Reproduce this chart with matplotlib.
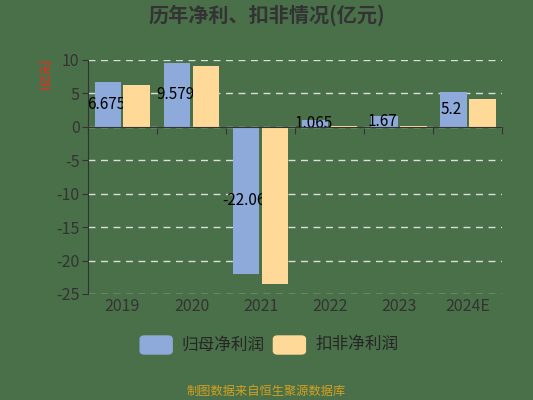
import numpy as np
import matplotlib
matplotlib.use('Agg')
import matplotlib.pyplot as plt
from matplotlib.patches import FancyBboxPatch

plt.rcParams['font.family'] = ['Noto Sans CJK SC', 'DejaVu Sans']

# data
years = ['2019', '2020', '2021', '2022', '2023', '2024E']
net_profit = [6.675, 9.579, -22.06, 1.065, 1.67, 5.2]
deducted = [6.3, 9.1, -23.5, 0.15, 0.12, 4.2]
labels = ['6.675', '9.579', '-22.06', '1.065', '1.67', '5.2']
yticks = [10, 5, 0, -5, -10, -15, -20, -25]

bg = '#4a7049'
blue = '#8eaadb'
yellow = '#ffd998'
dark = '#333333'

fig = plt.figure(figsize=(5.33, 4.0), dpi=100, facecolor=bg)
ax = fig.add_axes([0.165, 0.265, 0.777, 0.585])
ax.set_facecolor(bg)

x = np.arange(len(years)) + 0.5
w = 0.39
ax.bar(x - w / 2 - 0.015, net_profit, w, color=blue, zorder=3)
ax.bar(x + w / 2 + 0.015, deducted, w, color=yellow, zorder=5)

for xi, v, lab in zip(x, net_profit, labels):
    ax.text(xi - w / 2 - 0.04, v / 2, lab, ha='center', va='center',
            fontsize=11, color='black', zorder=4)

ax.set_xlim(0, len(years))
ax.set_ylim(-25, 10)
ax.set_yticks(yticks)
ax.set_yticklabels([str(t) for t in yticks], color=dark, fontsize=11.5)
ax.yaxis.grid(True, linestyle=(0, (5, 4)), color='#dddddd', linewidth=1, zorder=1)

for s in ['top', 'right']:
    ax.spines[s].set_visible(False)
ax.spines['left'].set_color(dark)
ax.spines['bottom'].set_color(dark)
ax.spines['bottom'].set_position(('data', 0))
ax.spines['bottom'].set_zorder(6)
ax.set_xticks(np.arange(len(years) + 1))
ax.set_xticklabels([])
ax.tick_params(axis='x', direction='out', length=5, color=dark)
ax.tick_params(axis='y', length=4, color=dark, pad=2)

sec = ax.secondary_xaxis('bottom')
sec.set_xticks(x)
sec.set_xticklabels(years, color=dark, fontsize=11.5)
sec.tick_params(length=0, pad=3)
sec.spines['bottom'].set_visible(False)

fig.text(0.085, 0.815, '(亿元)', rotation=90, color='#e03020', fontsize=8,
         ha='center', va='center', fontweight='bold')
fig.text(0.5, 0.962, '历年净利、扣非情况(亿元)', ha='center', va='center',
         fontsize=14.5, fontweight='bold', color=dark)

# legend drawn by hand with rounded swatches
for lx, col, name in [(0.263, blue, '归母净利润'), (0.513, yellow, '扣非净利润')]:
    fig.patches.append(FancyBboxPatch((lx, 0.085 + 0.03), 0.06, 0.045,
                                      boxstyle='round,pad=0,rounding_size=0.008',
                                      transform=fig.transFigure, color=col))
    fig.text(lx + 0.078, 0.138, name, ha='left', va='center', fontsize=12,
             color='#262626')

fig.text(0.5, 0.022, '制图数据来自恒生聚源数据库', ha='center', va='center',
         fontsize=8.8, color='#d4a020')

fig.savefig('out.png', dpi=100, facecolor=bg)
